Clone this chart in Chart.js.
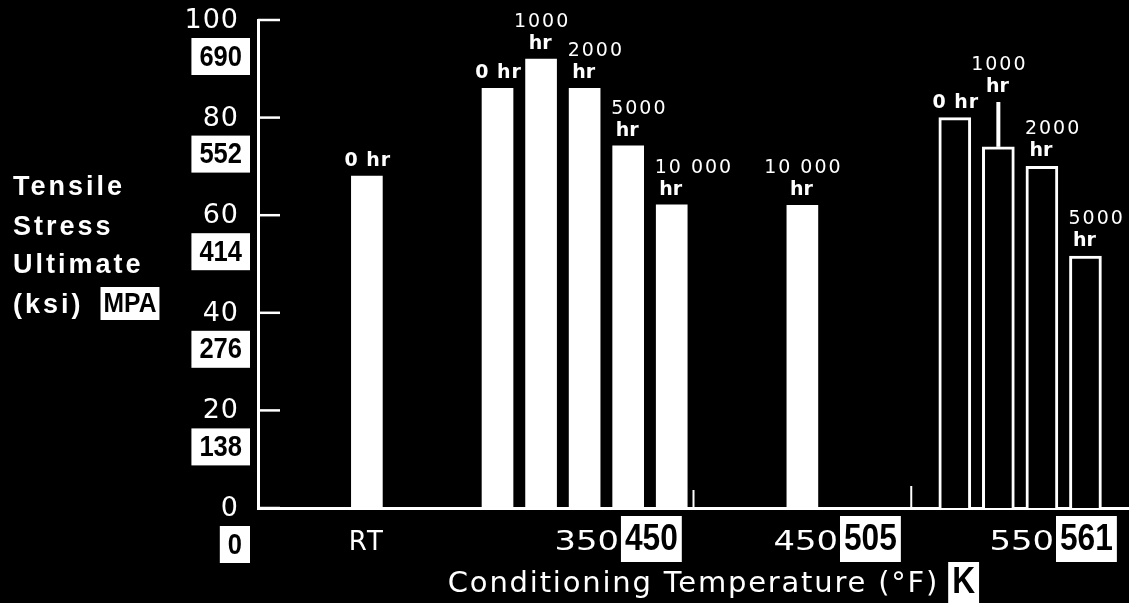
<!DOCTYPE html>
<html><head><meta charset="utf-8">
<script src="https://cdn.jsdelivr.net/npm/chart.js@4.4.1/dist/chart.umd.min.js"></script>
<style>html,body{margin:0;padding:0;background:#000;}canvas{display:block}</style>
</head><body>
<canvas id="c" width="1129" height="603"></canvas>
<script>
// ---------------- data ----------------
const temperaturesF = ['RT', '350', '450', '550'];
const temperaturesK = ['', '450', '505', '561'];
const exposureHours = [
  ['0'],
  ['0', '1000', '2000', '5000', '10 000'],
  ['10 000'],
  ['0', '1000', '2000', '5000']
];
const ultimateKsi = [
  [68],
  [86, 92, 86, 74.2, 62.1],
  [62],
  [80, 74, 70, 51.6]
];
const upperKsi = [
  [null],
  [null, null, null, null, null],
  [null],
  [null, 83.2, null, null]
];
const ksiTicks = [0, 20, 40, 60, 80, 100];
const mpaTicks = ['0', '138', '276', '414', '552', '690'];
const yTitleLines = ['Tensile', 'Stress', 'Ultimate', '(ksi)'];
const yTitleUnit = 'MPA';
const xTitle = 'Conditioning Temperature (°F)';
const xTitleUnit = 'K';

// ---------------- layout (not data) ----------------
const layoutCfg = {
  slotCount: 41,
  groupStart: [5, 11, 25, 32],
  slotStep: 2,
  outlinedGroups: [3],
  groupLabelSlot: [5, 16.53, 26.59, 36.51],
  separatorSlots: [20, 30]
};

const SANS = '"Liberation Sans", Arial, sans-serif';
const DEJA = '"DejaVu Sans", sans-serif';
const NARROW_SX = 0.88;

// build slot table from data
const slotLabels = new Array(layoutCfg.slotCount).fill('');
const solidData = new Array(layoutCfg.slotCount).fill(null);
const outlineData = new Array(layoutCfg.slotCount).fill(null);
const barInfo = [];
temperaturesF.forEach((t, g) => {
  exposureHours[g].forEach((h, j) => {
    const s = layoutCfg.groupStart[g] + j * layoutCfg.slotStep;
    slotLabels[s] = t + ' / ' + h + ' hr';
    const target = layoutCfg.outlinedGroups.includes(g) ? outlineData : solidData;
    target[s] = ultimateKsi[g][j];
    barInfo.push({ slot: s, g, j, h, v: ultimateKsi[g][j], up: upperKsi[g][j] });
  });
});

// white box with black narrow-bold text; returns box width
function boxWidth(ctx, text, size, padX) {
  ctx.font = 'bold ' + size + 'px ' + SANS;
  ctx.letterSpacing = '0px';
  return ctx.measureText(text).width * NARROW_SX + padX * 2;
}
function boxText(ctx, text, size, left, top, h, padX) {
  const bw = boxWidth(ctx, text, size, padX);
  ctx.fillStyle = '#fff';
  ctx.fillRect(left, top, bw, h);
  ctx.fillStyle = '#000';
  ctx.textAlign = 'center';
  ctx.textBaseline = 'middle';
  ctx.save();
  ctx.translate(left + bw / 2, top + h / 2 + 1);
  ctx.scale(NARROW_SX, 1);
  ctx.fillText(text, 0, 0);
  ctx.restore();
  return bw;
}
// stretched white text, right-aligned at x
function wideTextRight(ctx, text, font, sx, x, y) {
  ctx.save();
  ctx.font = font;
  ctx.letterSpacing = '0px';
  ctx.fillStyle = '#fff';
  ctx.textAlign = 'right';
  ctx.textBaseline = 'alphabetic';
  ctx.translate(x, y);
  ctx.scale(sx, 1);
  ctx.fillText(text, 0, 0);
  ctx.restore();
}

const decor = {
  id: 'decor',
  afterDraw(chart) {
    const ctx = chart.ctx;
    const xs = chart.scales.x, ys = chart.scales.y;
    const ca = chart.chartArea;
    ctx.save();
    ctx.strokeStyle = '#fff';
    ctx.fillStyle = '#fff';

    // inward tick marks + y labels
    ksiTicks.forEach((v, i) => {
      const y = ys.getPixelForValue(v);
      ctx.strokeStyle = '#fff';
      ctx.lineWidth = 2.5;
      ctx.beginPath();
      ctx.moveTo(ca.left, y);
      ctx.lineTo(ca.left + 22, y);
      ctx.stroke();
      ctx.fillStyle = '#fff';
      ctx.font = '27px ' + DEJA;
      ctx.letterSpacing = '1px';
      ctx.textAlign = 'right';
      ctx.textBaseline = 'middle';
      ctx.fillText(String(v), 239, y + 1);
      const w = boxWidth(ctx, mpaTicks[i], 29, 8);
      boxText(ctx, mpaTicks[i], 29, 250 - w, y + 18, 37, 8);
    });

    // y title
    ctx.fillStyle = '#fff';
    ctx.font = 'bold 27px ' + SANS;
    ctx.letterSpacing = '3px';
    ctx.textAlign = 'left';
    ctx.textBaseline = 'alphabetic';
    const baselines = [195, 235, 273, 313];
    yTitleLines.forEach((t, i) => ctx.fillText(t, 13, baselines[i]));
    const ksiW = ctx.measureText(yTitleLines[3]).width;
    boxText(ctx, yTitleUnit, 28, 13 + ksiW + 17, 287, 33, 3);

    // separators on x axis
    ctx.strokeStyle = '#fff';
    ctx.lineWidth = 2;
    layoutCfg.separatorSlots.forEach((s, i) => {
      const x = xs.getPixelForValue(s);
      ctx.beginPath();
      ctx.moveTo(x, ca.bottom);
      ctx.lineTo(x, ca.bottom - (i === 0 ? 18 : 22));
      ctx.stroke();
    });

    // x group labels
    temperaturesF.forEach((t, g) => {
      const ax = xs.getPixelForValue(layoutCfg.groupLabelSlot[g]);
      if (!temperaturesK[g]) {
        ctx.fillStyle = '#fff';
        ctx.font = '26px ' + DEJA;
        ctx.letterSpacing = '2px';
        ctx.textAlign = 'center';
        ctx.textBaseline = 'alphabetic';
        ctx.fillText(t, ax, 550);
      } else {
        wideTextRight(ctx, t, '26px ' + DEJA, 1.3, ax + 1, 550);
        boxText(ctx, temperaturesK[g], 36, ax + 3, 516, 46, 4);
      }
    });

    // x title
    ctx.fillStyle = '#fff';
    ctx.font = '29px ' + DEJA;
    ctx.letterSpacing = '1.8px';
    ctx.textAlign = 'center';
    ctx.textBaseline = 'alphabetic';
    const cx = (ca.left + ca.right) / 2;
    ctx.fillText(xTitle, cx, 592);
    const tw = ctx.measureText(xTitle).width;
    boxText(ctx, xTitleUnit, 36, cx + tw / 2 + 9, 562, 41, 4);

    // whiskers + bar labels
    barInfo.forEach(b => {
      const x = xs.getPixelForValue(b.slot);
      let top = ys.getPixelForValue(b.v);
      if (b.up !== null && b.up !== undefined) {
        const yu = ys.getPixelForValue(b.up);
        ctx.strokeStyle = '#fff';
        ctx.lineWidth = 4;
        ctx.beginPath();
        ctx.moveTo(x, top);
        ctx.lineTo(x, yu);
        ctx.stroke();
        top = yu;
      }
      ctx.fillStyle = '#fff';
      ctx.textBaseline = 'alphabetic';
      if (b.h === '0') {
        ctx.font = 'bold 19px ' + DEJA;
        ctx.letterSpacing = '1px';
        ctx.textAlign = 'center';
        ctx.fillText(b.h + ' hr', x + 1, top - 10);
      } else {
        ctx.font = 'bold 19px ' + DEJA;
        ctx.letterSpacing = '0px';
        ctx.textAlign = 'center';
        ctx.fillText('hr', x - 1, top - 10);
        ctx.font = '19px ' + DEJA;
        ctx.letterSpacing = '2px';
        if (b.j >= 2) {
          ctx.textAlign = 'left';
          ctx.fillText(b.h, x - 17, top - 32);
        } else {
          ctx.textAlign = 'center';
          ctx.fillText(b.h, x + 1, top - 32);
        }
      }
    });
    ctx.restore();
  }
};

new Chart(document.getElementById('c').getContext('2d'), {
  type: 'bar',
  data: {
    labels: slotLabels,
    datasets: [
      { label: 'conditioned (solid)', data: solidData, backgroundColor: '#fff', borderWidth: 0, barThickness: 31, grouped: false },
      { label: 'conditioned (outlined)', data: outlineData, backgroundColor: '#000', borderColor: '#fff', borderWidth: 3, barThickness: 32, grouped: false }
    ]
  },
  options: {
    responsive: false,
    animation: false,
    devicePixelRatio: 1,
    layout: { padding: { top: 20, left: 0, right: 0, bottom: 0 } },
    plugins: { legend: { display: false }, tooltip: { enabled: false } },
    scales: {
      x: {
        type: 'category', offset: false,
        grid: { display: false },
        ticks: { display: false },
        border: { color: '#fff', width: 3 },
        afterFit(s) { s.height = 95; }
      },
      y: {
        min: 0, max: 100,
        ticks: { display: false, stepSize: 20 },
        grid: { display: false },
        border: { color: '#fff', width: 3 },
        afterFit(s) { s.width = 258; }
      }
    }
  },
  plugins: [decor]
});
</script>
</body></html>
